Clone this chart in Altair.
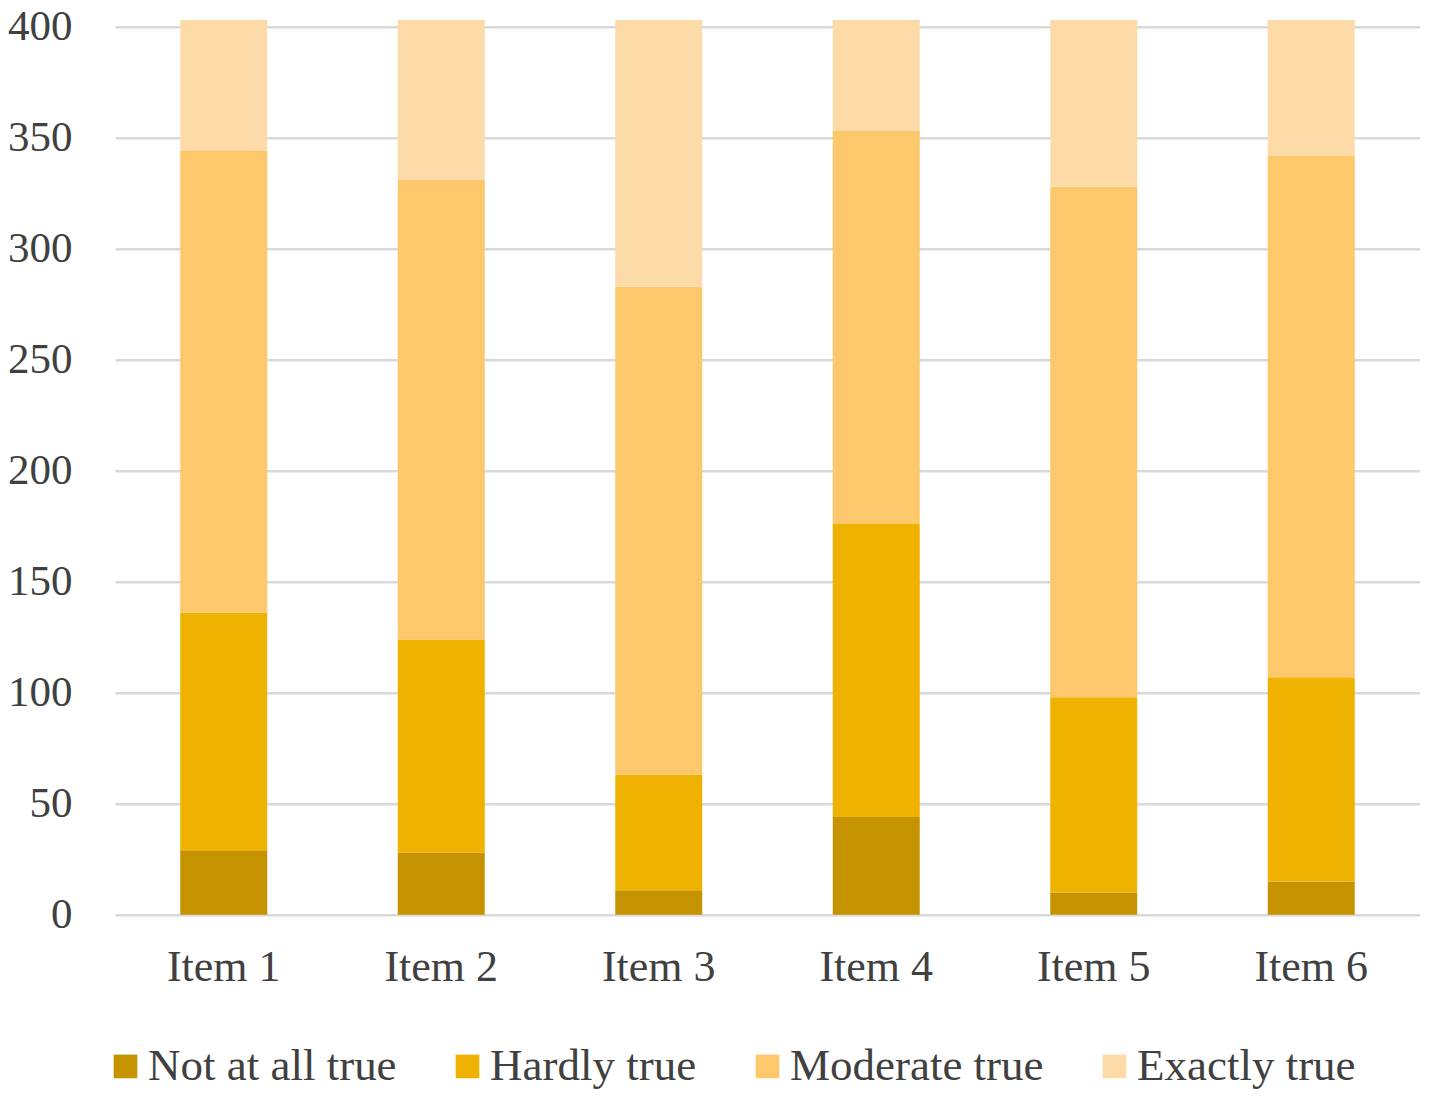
import altair as alt
import pandas as pd

items = ["Item 1", "Item 2", "Item 3", "Item 4", "Item 5", "Item 6"]
categories = ["Not at all true", "Hardly true", "Moderate true", "Exactly true"]
not_at_all = [29, 28, 11, 44, 10, 15]
hardly = [107, 96, 52, 132, 88, 92]
moderate = [208, 207, 220, 177, 230, 235]
exactly = [59, 72, 120, 50, 75, 61]
colors = ["#C59300", "#EFB200", "#FDC76B", "#FDDBA8"]
y_ticks = [0, 50, 100, 150, 200, 250, 300, 350, 400]

series = [not_at_all, hardly, moderate, exactly]
rows = []
for i, it in enumerate(items):
    for k, cat in enumerate(categories):
        rows.append({"item": it, "category": cat, "value": series[k][i], "order": k})
df = pd.DataFrame(rows)

FONT = "Liberation Serif"
TXT = "#404040"

chart = alt.Chart(df).mark_bar().encode(
    x=alt.X(
        "item:N", sort=items, title=None,
        scale=alt.Scale(paddingInner=0.6, paddingOuter=0.3),
        axis=alt.Axis(labelAngle=0, labelPadding=31, ticks=False, domain=False,
                      labelFontSize=44, labelFont=FONT, labelColor=TXT, grid=False),
    ),
    y=alt.Y(
        "value:Q", stack="zero", title=None,
        scale=alt.Scale(domain=[0, 400], nice=False),
        axis=alt.Axis(values=y_ticks, ticks=False, domain=False, labelPadding=43,
                      labelFontSize=43, labelFont=FONT, labelColor=TXT,
                      grid=True, gridColor="#D9D9D9", gridWidth=2.5),
    ),
    color=alt.Color(
        "category:N",
        scale=alt.Scale(domain=categories, range=colors),
        legend=alt.Legend(title=None, orient="none", direction="horizontal",
                          legendX=-12, legendY=1017, padding=0,
                          symbolType="square", symbolSize=560, symbolStrokeWidth=0,
                          symbolOpacity=1, labelFontSize=45, labelFont=FONT,
                          labelColor=TXT, labelOffset=0, columnPadding=48,
                          labelLimit=500),
    ),
    order=alt.Order("order:Q", sort="ascending"),
).properties(
    width=1305, height=888,
    padding={"left": 107, "top": 18.7, "right": 0, "bottom": 177},
    autosize=alt.AutoSizeParams(type="none"),
).configure_view(stroke=None)

chart.save("out.html", embed_options={"renderer": "svg", "actions": False})
